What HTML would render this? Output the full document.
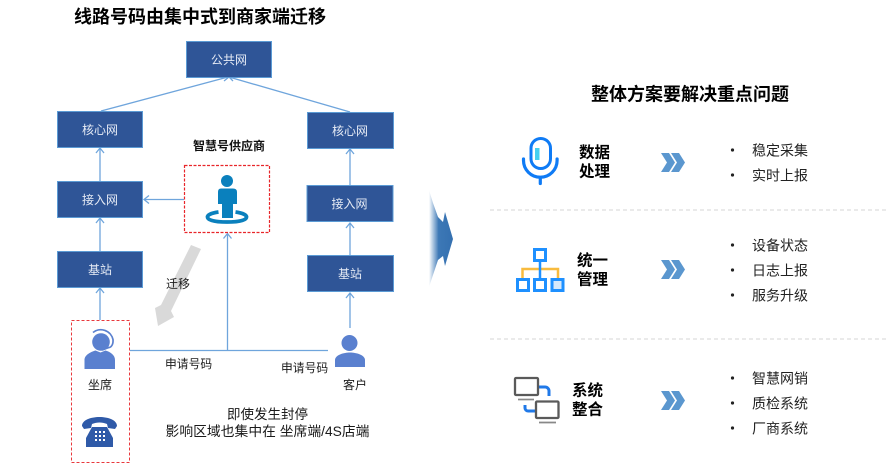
<!DOCTYPE html>
<html>
<head>
<meta charset="utf-8">
<style>
html,body{margin:0;padding:0;background:#fff;width:890px;height:464px;overflow:hidden}
svg{display:block}
text{font-family:"Liberation Sans","Noto Sans CJK SC",sans-serif}
.n{fill:#e6ebf5;font-size:12px;text-anchor:middle}
.t{fill:#1a1a1a;font-size:12px;text-anchor:middle}
.b{fill:#000;font-size:15.500px;font-weight:700}
.l{fill:#1a1a1a;font-size:13px}
.box{fill:#2f5597;stroke:#5b9bd5;stroke-width:1}
.c{stroke:#6fa5dc;stroke-width:1.300;fill:none}
.bul{fill:#222;font-size:14px}
</style>
</head>
<body>
<svg width="890" height="464" viewBox="0 0 890 464" xmlns="http://www.w3.org/2000/svg">
<defs>
<linearGradient id="g" x1="0" x2="1" y1="0" y2="0">
<stop offset="0" stop-color="#fff"/><stop offset=".4" stop-color="#3d78b6"/><stop offset="1" stop-color="#3470b0"/>
</linearGradient>
</defs>

<text x="74" y="23" font-size="18" font-weight="700" fill="#000">线路号码由集中式到商家端迁移</text>

<!-- connectors -->
<g class="c">
<path d="M101 111L228 77M223 77.500L229 77L224 81M350 112L229 77M234 77.500L229 77L233 81"/>
<path d="M100 181V148M96 153L100 148L104 153"/>
<path d="M100 251V218M96 223L100 218L104 223"/>
<path d="M100 320V288M96 293L100 288L104 293"/>
<path d="M350 185V149M346 154L350 149L354 154"/>
<path d="M350 255V223M346 228L350 223L354 228"/>
<path d="M350 328V293M346 298L350 293L354 298"/>
<path d="M184 199.500H144M149 195.500L144 199.500L149 203.500"/>
<path d="M227.500 350.500V233.500M223.500 238.500L227.500 233.500L231.500 238.500"/>
<path d="M130 350.500H328"/>
</g>

<!-- boxes -->
<rect class="box" x="186.500" y="41.500" width="85" height="36"/><text class="n" x="229" y="64">公共网</text>
<rect class="box" x="57.500" y="111.500" width="85" height="36"/><text class="n" x="100" y="134">核心网</text>
<rect class="box" x="307.500" y="112.500" width="86" height="36"/><text class="n" x="350" y="135">核心网</text>
<rect class="box" x="57.500" y="181.500" width="85" height="36"/><text class="n" x="100" y="204">接入网</text>
<rect class="box" x="307" y="185.500" width="86" height="36"/><text class="n" x="349.500" y="208">接入网</text>
<rect class="box" x="57.500" y="251.500" width="85" height="36"/><text class="n" x="100" y="274">基站</text>
<rect class="box" x="307.500" y="255.500" width="86" height="36"/><text class="n" x="350" y="278">基站</text>

<!-- supplier -->
<text x="193" y="150" font-size="12" font-weight="700" fill="#111">智慧号供应商</text>
<rect x="184.500" y="165.500" width="85" height="67" fill="#fff" stroke="#e8262a" stroke-width="1.200" stroke-dasharray="3 1.500"/>
<path d="M218.500 212c-7.500 1-11 3-11 5 0 3.500 8.500 5 19.500 5s19.500-1.500 19.500-5c0-2-3.500-4-11-5" fill="none" stroke="#0a80bd" stroke-width="3.800"/>
<circle cx="227" cy="181" r="6" fill="#0a80bd"/>
<path d="M221 188.500h12q4 0 4 3.500v12h-4v14h-11v-14h-4v-12q0-3.500 3-3.500z" fill="#0a80bd"/>

<!-- migrate arrow -->
<polygon points="191,245 201,249 171,311 174,317 158,326 155,308 161,305" fill="#d9d9d9"/>
<text class="l" x="166" y="288" style="font-size:12px">迁移</text>

<!-- left dashed box -->
<rect x="71.500" y="320.500" width="58" height="142" fill="#fff" stroke="#e8383c" stroke-width="1" stroke-dasharray="3 2"/>
<circle cx="101" cy="342" r="8.800" fill="#5a80cf"/>
<path d="M93 332.500a12.500 12.500 0 0 1 20 7c.5 5-2 8-4 8l-7 2.500" fill="none" stroke="#5a80cf" stroke-width="1.700"/>
<path d="M84.500 369v-9c0-5 6-8 11-9.500l5 2 5-2c5 1.500 9.500 4.500 9.500 9.500v9z" fill="#5a80cf"/>
<text class="t" x="100" y="389">坐席</text>
<path d="M82 426c0-12 35-12 35 0l-2 3-7-1-1-4c-5-2-10-2-15 0l-1 4-7 1z" fill="#2f5aa8"/>
<path d="M92 427h15l6 11v9H86v-9z" fill="#2f5aa8"/>
<g fill="#fff"><rect x="95" y="431" width="2" height="2"/><rect x="99" y="431" width="2" height="2"/><rect x="103" y="431" width="2" height="2"/><rect x="95" y="435" width="2" height="2"/><rect x="99" y="435" width="2" height="2"/><rect x="103" y="435" width="2" height="2"/><rect x="95" y="439" width="2" height="2"/><rect x="99" y="439" width="2" height="2"/><rect x="103" y="439" width="2" height="2"/></g>

<!-- customer -->
<circle cx="349.500" cy="343" r="8" fill="#5a80cf"/>
<path d="M335 367v-7c0-5 9-7.500 15-7.500s15 2.500 15 7.500v7z" fill="#5a80cf"/>
<text class="t" x="355" y="389">客户</text>

<text class="l" x="165" y="368" style="font-size:11.800px">申请号码</text>
<text class="l" x="281" y="372" style="font-size:11.800px">申请号码</text>
<text class="l" x="267.500" y="419" text-anchor="middle" style="font-size:13.500px">即使发生封停</text>
<text class="l" x="267.500" y="436" text-anchor="middle" style="font-size:13.800px">影响区域也集中在 坐席端/4S店端</text>

<!-- central arrow -->
<polygon points="429,190 433,203 438,217 443,222 445,212 453,239 445,266 443,256 438,260 433,275 429,287" fill="url(#g)"/>

<!-- right -->
<text x="591" y="100.500" font-size="18" font-weight="700" fill="#000" textLength="198">整体方案要解决重点问题</text>
<line x1="490" y1="210" x2="886" y2="210" stroke="#d4d4d4" stroke-dasharray="4 3"/>
<line x1="490" y1="339" x2="886" y2="339" stroke="#d4d4d4" stroke-dasharray="4 3"/>

<!-- mic -->
<path d="M523.500 159v1.500a16.800 16.800 0 0 0 33.600 0V159M540.300 177.500v6" fill="none" stroke="#0f7bf5" stroke-width="3.200" stroke-linecap="round"/>
<rect x="531" y="138.500" width="19.500" height="30" rx="9.700" fill="#fff" stroke="#0f7bf5" stroke-width="3"/>
<rect x="535" y="148" width="4.500" height="12" fill="#45d0f0"/>
<text class="b" x="579" y="157.500">数据</text>
<text class="b" x="579" y="176.500">处理</text>

<!-- org -->
<path d="M522.500 279v-10h35.500v10" fill="none" stroke="#f8bb3e" stroke-width="2.500"/>
<line x1="540" y1="261" x2="540" y2="279" stroke="#1e90ff" stroke-width="2.500"/>
<g fill="#fff" stroke="#1e90ff" stroke-width="3">
<rect x="534.500" y="249.500" width="11" height="11"/>
<rect x="517.500" y="279.500" width="11" height="11"/>
<rect x="534.500" y="279.500" width="11" height="11"/>
<rect x="552" y="279.500" width="11" height="11" fill="#d5e8fb"/>
</g>
<text class="b" x="577" y="265.500">统一</text>
<text class="b" x="577" y="284.500">管理</text>

<!-- systems -->
<path d="M539 387h6a4 4 0 0 1 4 4v5M525 405v3a3 3 0 0 0 3 3h7" fill="none" stroke="#2079e8" stroke-width="3"/>
<rect x="515" y="378" width="23" height="17" rx="1" fill="#fff" stroke="#5a5a5a" stroke-width="2.300"/>
<line x1="518" y1="399.500" x2="534" y2="399.500" stroke="#888" stroke-width="1.700"/>
<rect x="536" y="401.500" width="22.500" height="16.500" rx="1" fill="#fff" stroke="#5a5a5a" stroke-width="2.300"/>
<line x1="539" y1="422.500" x2="556" y2="422.500" stroke="#888" stroke-width="1.700"/>
<text class="b" x="572" y="395.500">系统</text>
<text class="b" x="572" y="414.500">整合</text>

<!-- chevrons -->
<g fill="#5b97cf">
<path d="M661 153h8l6 9.500-6 9.500h-8l6-9.500zM671 153h8l6 9.500-6 9.500h-8l6-9.500z"/>
<path d="M661 260h8l6 9.500-6 9.500h-8l6-9.500zM671 260h8l6 9.500-6 9.500h-8l6-9.500z"/>
<path d="M661 391h8l6 9.500-6 9.500h-8l6-9.500zM671 391h8l6 9.500-6 9.500h-8l6-9.500z"/>
</g>

<!-- bullets -->
<g fill="#222">
<circle cx="732.500" cy="150" r="1.600"/><circle cx="732.500" cy="175" r="1.600"/>
<circle cx="732.500" cy="245" r="1.600"/><circle cx="732.500" cy="270" r="1.600"/><circle cx="732.500" cy="295" r="1.600"/>
<circle cx="732.500" cy="378" r="1.600"/><circle cx="732.500" cy="403" r="1.600"/><circle cx="732.500" cy="428" r="1.600"/>
</g>
<text class="bul" x="752" y="155.500">稳定采集</text>
<text class="bul" x="752" y="180.500">实时上报</text>
<text class="bul" x="752" y="250.500">设备状态</text>
<text class="bul" x="752" y="275.500">日志上报</text>
<text class="bul" x="752" y="300.500">服务升级</text>
<text class="bul" x="752" y="383.500">智慧网销</text>
<text class="bul" x="752" y="408.500">质检系统</text>
<text class="bul" x="752" y="433.500">厂商系统</text>
</svg>
</body>
</html>
